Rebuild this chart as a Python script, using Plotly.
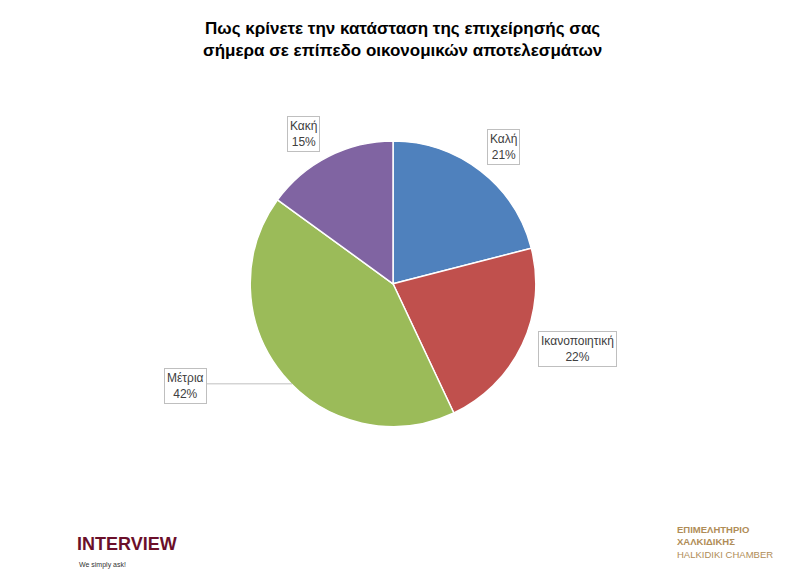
import plotly.graph_objects as go

labels = ["Καλή", "Ικανοποιητική", "Μέτρια", "Κακή"]
values = [21, 22, 42, 15]
colors = ["#4f81bd", "#c0504d", "#9bbb59", "#8064a2"]
# label box positions (paper coords)
label_pos = [(0.628, 0.792), (0.772, 0.412), (0.198, 0.349), (0.374, 0.813)]

fig = go.Figure(go.Pie(
    labels=labels, values=values, sort=False, direction="clockwise", rotation=0,
    marker=dict(colors=colors, line=dict(color="white", width=1.5)),
    textinfo="none", hoverinfo="label+percent",
    domain=dict(x=[0.307, 0.669], y=[0.277, 0.772]),
    showlegend=False,
))

# leader line for Μέτρια
fig.add_shape(type="line", xref="paper", yref="paper", x0=0.232, y0=0.352, x1=0.36, y1=0.352,
              line=dict(color="#bfbfbf", width=1))

for (lx, ly), lab, v in zip(label_pos, labels, values):
    fig.add_annotation(x=lx, y=ly, xref="paper", yref="paper", showarrow=False,
                       text=f"{lab}<br>{v}%", font=dict(family="Liberation Sans", size=12, color="#404040"),
                       bordercolor="#bfbfbf", borderwidth=1, bgcolor="white", borderpad=2)

fig.add_annotation(x=0.5, y=0.985, xref="paper", yref="paper", showarrow=False, yanchor="top",
                   text="<b>Πως κρίνετε την κατάσταση της επιχείρησής σας<br>σήμερα σε επίπεδο οικονομικών αποτελεσμάτων</b>",
                   font=dict(family="Liberation Sans", size=17, color="black"))

fig.add_annotation(x=0.085, y=0.055, xref="paper", yref="paper", showarrow=False, xanchor="left",
                   text="<b>INTERVIEW</b>", font=dict(family="Liberation Sans", size=18, color="#6b0f2a"))
fig.add_annotation(x=0.088, y=0.03, xref="paper", yref="paper", showarrow=False, xanchor="left",
                   text="We simply ask!", font=dict(family="Liberation Sans", size=7, color="#333"))
fig.add_annotation(x=0.845, y=0.045, xref="paper", yref="paper", showarrow=False, xanchor="left",
                   text="<b>ΕΠΙΜΕΛΗΤΗΡΙΟ<br>ΧΑΛΚΙΔΙΚΗΣ</b><br>HALKIDIKI CHAMBER",
                   align="left", font=dict(family="Liberation Sans", size=9.5, color="#b08d57"))

fig.update_layout(width=789, height=580, margin=dict(l=0, r=0, t=0, b=0),
                  paper_bgcolor="white", plot_bgcolor="white")
fig.write_html("out.html")
